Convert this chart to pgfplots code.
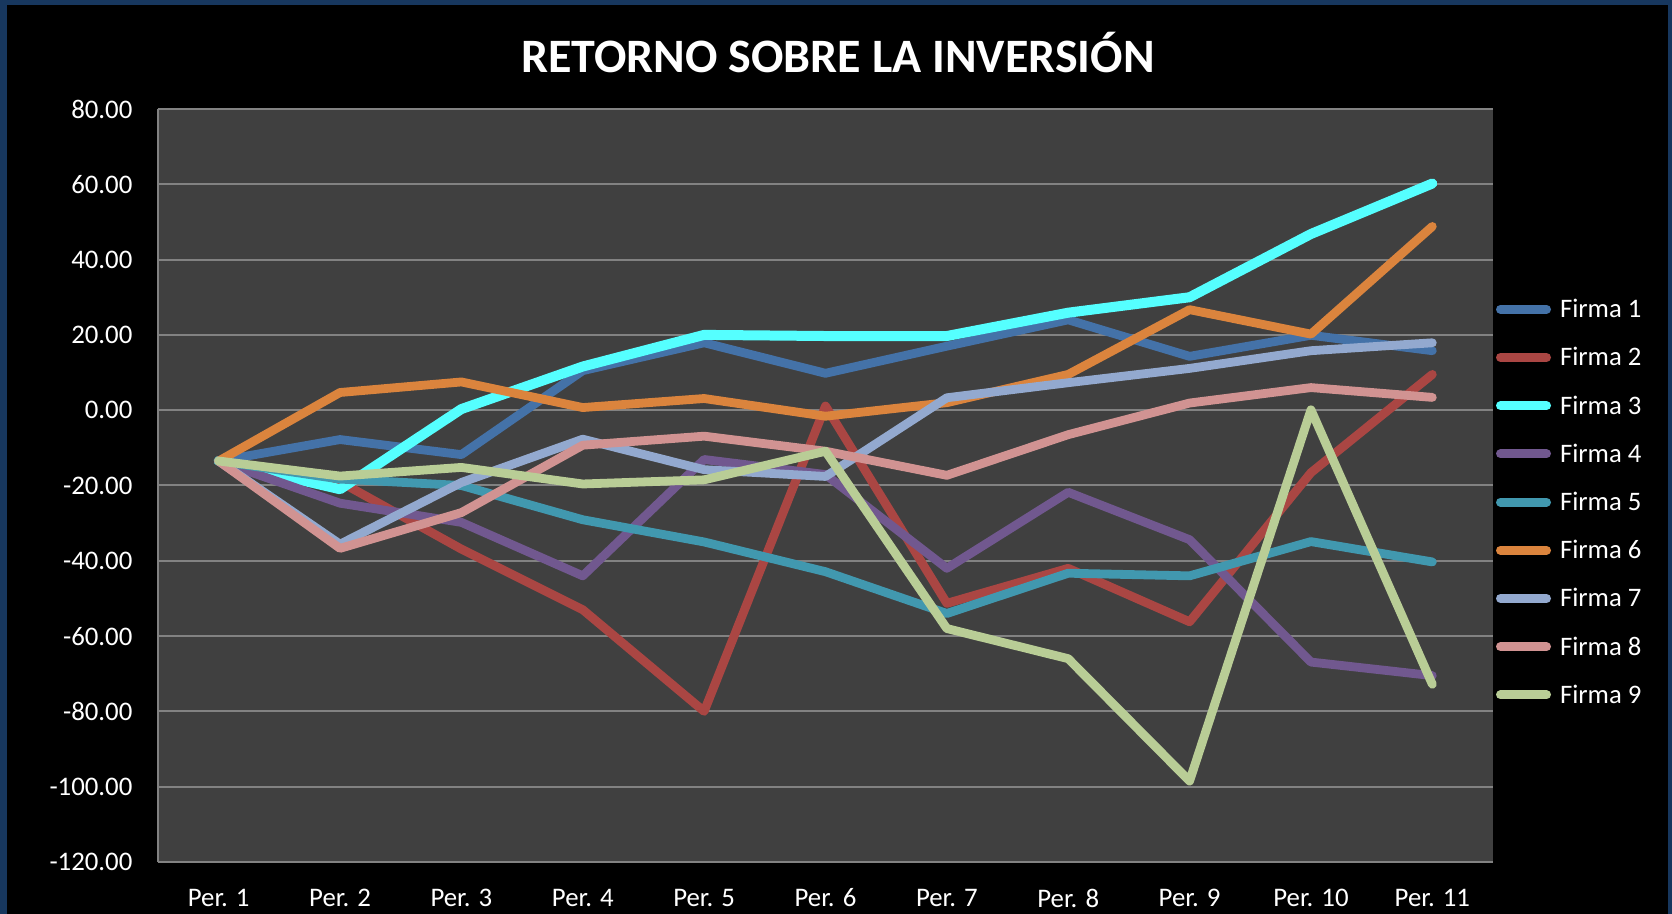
\documentclass[border=0pt]{standalone}
\usepackage{pgfplots}
\pgfplotsset{compat=1.18}
\usepackage{fontspec}
\setmainfont{Carlito}
\definecolor{frameblue}{HTML}{17375E}
\definecolor{plotgray}{HTML}{404040}
\definecolor{gridgray}{HTML}{828282}
\definecolor{f1}{HTML}{4472A8}
\definecolor{f2}{HTML}{AA4643}
\definecolor{f3}{HTML}{55FFFF}
\definecolor{f4}{HTML}{71588F}
\definecolor{f5}{HTML}{4198AF}
\definecolor{f6}{HTML}{DB843D}
\definecolor{f7}{HTML}{93A9CF}
\definecolor{f8}{HTML}{D19392}
\definecolor{f9}{HTML}{B9CD96}
\begin{document}
\begin{tikzpicture}[x=1pt,y=1pt]
\fill[frameblue] (0,0) rectangle (836,457);
\fill[black] (3.5,0) rectangle (834,454.5);
\useasboundingbox (0,0) rectangle (836,457);
\node[text=white, anchor=base, font=\fontsize{24}{28}\selectfont\bfseries] at (419,420.7) {RETORNO SOBRE LA INVERSIÓN};
\begin{axis}[
  at={(79pt,26pt)}, anchor=south west,
  scale only axis, width=667.5pt, height=376.5pt,
  xmin=0.5, xmax=11.5, ymin=-120, ymax=80,
  xtick={1,...,11},
  xticklabels={Per. 1,Per. 2,Per. 3,Per. 4,Per. 5,Per. 6,Per. 7,Per. 8,Per. 9,Per. 10,Per. 11},
  ytick distance=20,
  axis x line*=bottom, axis y line*=left,
  axis background/.style={fill=plotgray},
  axis line style={-, draw=gridgray, line width=1pt},
  ymajorgrids, grid style={draw=gridgray, line width=1pt},
  major tick length=0pt,
  tick label style={text=white, font=\fontsize{13.4}{15}\selectfont},
  yticklabel style={anchor=east, inner sep=0pt, xshift=-12.6pt},
  xticklabel style={anchor=center, inner sep=0pt, yshift=-18pt},
  /pgf/number format/.cd, fixed, fixed zerofill, precision=2, assume math mode=true, 1000 sep={},
  /pgfplots/.cd,
  legend style={at={(1,0.478)}, anchor=west, xshift=1.5pt, draw=none, fill=none,
    inner sep=0pt, outer sep=0pt, text=white, font=\fontsize{13.35}{15}\selectfont,
    row sep=11.6pt, column sep=4.5pt,
    nodes={inner sep=0pt, text height=10.5pt, text depth=2pt}},
  legend cell align=left,
  legend image code/.code={\draw[#1, line width=4.5pt, line cap=round] (2.25pt,0pt) -- (25.25pt,0pt);},
  every axis plot/.append style={line width=4.4pt, line cap=round, line join=round, no markers},
]
\addplot[f1] coordinates {(1,-13.5) (2,-7.8) (3,-11.8) (4,10.5) (5,17.9) (6,9.8) (7,17) (8,24) (9,14.3) (10,19.9) (11,15.8)};
\addlegendentry{Firma 1}
\addplot[f2] coordinates {(1,-13.5) (2,-19) (3,-36.9) (4,-53) (5,-80) (6,1.1) (7,-51.3) (8,-42) (9,-56.2) (10,-16.6) (11,9.5)};
\addlegendentry{Firma 2}
\addplot[f3, line width=5pt] coordinates {(1,-13.5) (2,-21) (3,0.3) (4,11.6) (5,20) (6,19.7) (7,19.7) (8,25.9) (9,30) (10,46.8) (11,60.2)};
\addlegendentry{Firma 3}
\addplot[f4] coordinates {(1,-13.5) (2,-24.7) (3,-29.8) (4,-44) (5,-13.1) (6,-17.1) (7,-42) (8,-21.8) (9,-34.4) (10,-66.9) (11,-70.5)};
\addlegendentry{Firma 4}
\addplot[f5] coordinates {(1,-13.5) (2,-18.3) (3,-20) (4,-29.1) (5,-35) (6,-42.9) (7,-54) (8,-43.3) (9,-44) (10,-34.9) (11,-40.3)};
\addlegendentry{Firma 5}
\addplot[f6] coordinates {(1,-13.5) (2,4.7) (3,7.5) (4,0.7) (5,3.1) (6,-1.6) (7,2) (8,9.5) (9,26.7) (10,20.2) (11,48.8)};
\addlegendentry{Firma 6}
\addplot[f7] coordinates {(1,-13.5) (2,-35.6) (3,-19.2) (4,-7.7) (5,-15.8) (6,-17.6) (7,3.3) (8,7.3) (9,11.1) (10,15.8) (11,17.9)};
\addlegendentry{Firma 7}
\addplot[f8] coordinates {(1,-13.5) (2,-36.7) (3,-27.2) (4,-9.3) (5,-6.9) (6,-10.9) (7,-17.3) (8,-6.5) (9,1.9) (10,6) (11,3.4)};
\addlegendentry{Firma 8}
\addplot[f9] coordinates {(1,-13.5) (2,-17.5) (3,-15.2) (4,-19.6) (5,-18.5) (6,-10.9) (7,-58) (8,-66) (9,-98.5) (10,0.1) (11,-72.8)};
\addlegendentry{Firma 9}
\end{axis}
\end{tikzpicture}
\end{document}
